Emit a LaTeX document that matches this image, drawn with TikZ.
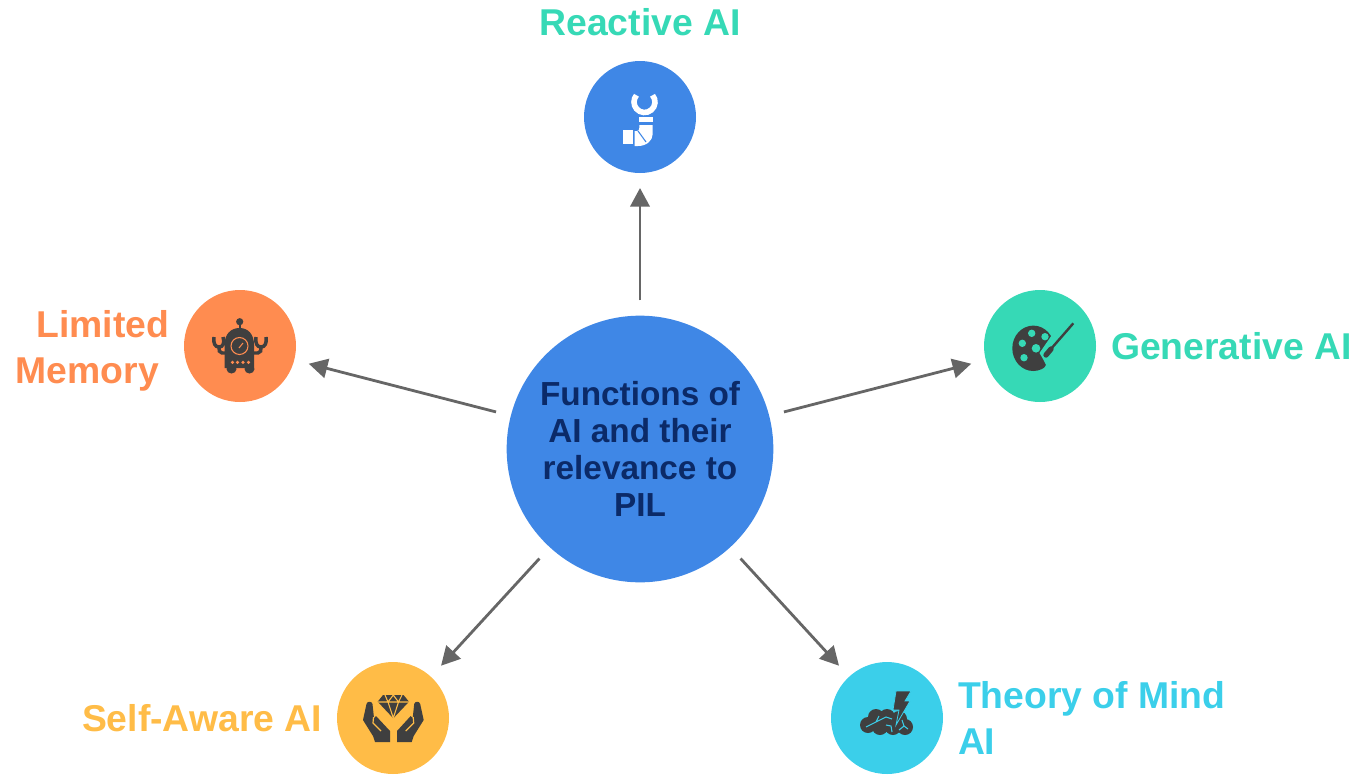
\documentclass[tikz,border=0pt]{standalone}
\usepackage{fontspec}
\setmainfont{Liberation Sans}
\usetikzlibrary{arrows.meta}
\definecolor{hubblue}{HTML}{3F87E6}
\definecolor{hubtext}{HTML}{0B2A68}
\definecolor{mint}{HTML}{36D9B6}
\definecolor{peach}{HTML}{FF8C50}
\definecolor{amber}{HTML}{FFBC47}
\definecolor{sky}{HTML}{3BCFEA}
\definecolor{icondark}{HTML}{3F3F3F}
\definecolor{linkgray}{HTML}{666666}
\tikzset{
  spot/.style={circle,minimum size=84pt,inner sep=0pt,outer sep=11.25pt},
  hub/.style={circle,fill=hubblue,minimum size=200pt,inner sep=0pt,outer sep=11.5pt,
    align=center,text=hubtext,font=\fontsize{25}{27.7}\selectfont\bfseries},
  tag/.style={inner sep=0pt,outer sep=0pt,font=\fontsize{28}{34.5}\selectfont\bfseries},
  link/.style={draw=linkgray,line width=2.1pt,-{Triangle[length=14pt,width=14.5pt]}},
}
\begin{document}
\begin{tikzpicture}[x=0.75pt,y=-0.75pt]
  \useasboundingbox (0,0) rectangle (1360,775);

  \node[hub] (Center) at (640,449) {Functions of\\AI and their\\relevance to\\PIL};
  \node[spot,fill=hubblue] (Reactive) at (640,117) {};
  \node[spot,fill=mint] (Generative) at (1040,346) {};
  \node[spot,fill=peach] (Limited) at (240,346) {};
  \node[spot,fill=amber] (Self) at (393,718) {};
  \node[spot,fill=sky] (Theory) at (887,718) {};

  \node[tag,text=mint] (ReactiveTag) at (640,22) {Reactive AI};
  \node[tag,text=mint,anchor=west] (GenerativeTag) at (Generative.east) {Generative AI};
  \node[tag,text=peach,anchor=east,align=right,yshift=-3.5pt] (LimitedTag) at (Limited.west) {Limited\\Memory\kern7.5pt\null};
  \node[tag,text=amber,anchor=east] (SelfTag) at (Self.west) {Self-Aware AI};
  \node[tag,text=sky,anchor=west,align=left] (TheoryTag) at (Theory.east) {Theory of Mind\\AI};

  \draw[link] (Center) -- (Reactive);
  \draw[link] (Center) -- (Generative);
  \draw[link] (Center) -- (Limited);
  \draw[link] (Center) -- (Self);
  \draw[link] (Center) -- (Theory);

  % arm icon
  \draw[white,line width=4.2pt] (644.5,102) ++(-40:10.5) arc (-40:220:10.5);
  \fill[white] (639.3,116.7) rectangle (652.7,122);
  \fill[white] (639.3,125) -- (652.7,125) -- (652.7,134) .. controls (652.7,141) and (646,146) .. (638,146)
    -- (634.5,146) -- (634.5,131) -- (637,131) .. controls (638.5,131) and (639.3,130) .. (639.3,128) -- cycle;
  \draw[hubblue,line width=0.8pt] (638,131) -- (646,142);
  \fill[white] (623.3,130) rectangle (632.7,144);

  % robot icon
  \fill[icondark] (224.5,368) -- (224.5,345) .. controls (224.5,334) and (231,328) .. (239.5,328)
    .. controls (248,328) and (254,334) .. (254,345) -- (254,368) -- cycle;
  \draw[icondark,line width=1.5pt] (239.7,322) -- (239.7,330);
  \fill[icondark] (239.7,321.7) circle (3.6);
  \fill[icondark] (231.5,369) ellipse (5 and 4.5) (249.5,369) ellipse (5 and 4.5);
  \draw[peach,line width=0.8pt] (239.5,346) circle (8.5);
  \draw[peach,line width=0.8pt] (239,348) -- (243,343);
  \foreach \dotx in {232.5,237.5,243,248.5}
    \fill[peach] (\dotx,362.3) circle (1.8);
  \draw[icondark,line width=2.6pt] (226,353) -- (222,353) .. controls (219,353) and (219,350) .. (219,347)
    (214,337) .. controls (213,343) and (215,347) .. (219,347) .. controls (223,347) and (225,343) .. (223,337);
  \draw[icondark,line width=2.6pt] (253,353) -- (258,353) .. controls (261,353) and (261,350) .. (261,347)
    (256,337) .. controls (255,343) and (257,347) .. (261,347) .. controls (265,347) and (267,343) .. (266,337);

  % palette icon
  \fill[icondark] (1033.3,348.3) ellipse (21 and 22.7);
  \fill[mint] (1054,332) -- (1062,332) -- (1062,372) -- (1042,372) -- (1046,365) -- (1043,359) -- (1039.5,353) -- cycle;
  \fill[mint] (1031.7,333.3) circle (3.7) (1045,336.7) circle (3.7) (1022.3,343.3) circle (3.7)
    (1036,348.3) circle (4.3) (1024,357.7) circle (3.7);
  \draw[icondark,line width=1.8pt] (1073.3,323.3) -- (1050,350);
  \draw[icondark,line width=4pt,line cap=round] (1051,349) -- (1046,355);

  % diamond and hands icon
  \fill[icondark] (383,695) -- (403.5,695) -- (409,701.7) -- (393.3,718.3) -- (377.7,701.7) -- cycle;
  \draw[amber,line width=0.8pt] (377.7,702) -- (409,702) (385,695) -- (388,702) -- (393.3,718) -- (398.5,702) -- (402,695)
    (388,702) -- (393.3,695) -- (398.5,702);
  \fill[icondark] (363,720) -- (366.5,704) .. controls (367,701) and (372,701) .. (372.5,704) -- (374,718)
    -- (376,716) -- (390,731) -- (390,742) -- (375,742) -- (373,736) -- cycle;
  \fill[icondark] (423.7,720) -- (420.2,704) .. controls (419.7,701) and (414.7,701) .. (414.2,704) -- (412.7,718)
    -- (410.7,716) -- (397,731) -- (397,742) -- (411.7,742) -- (413.7,736) -- cycle;
  \draw[amber,line width=0.9pt] (373.5,717) -- (373,723) -- (381,731) (413.2,717) -- (413.7,723) -- (405.7,731);

  % brain and bolt icon
  \fill[icondark] (868,725) circle (8) (876,717) circle (8) (887,717) circle (8) (899,719) circle (8)
    (905,727) circle (8) (893,727) circle (8) (880,727) circle (8);
  \filldraw[fill=icondark,draw=sky,line width=0.6pt] (896,691) -- (911,691) -- (905,701) -- (910,701) -- (896,725) -- (899,710) -- (893,710) -- cycle;
  \draw[sky,line width=0.8pt] (866,727) -- (876,722) -- (879,716) (876,722) -- (886,717) -- (892,719)
    (886,725) -- (891,726) -- (892,732) (899,730) -- (904,726) -- (908,729) (904,726) -- (902,720);
\end{tikzpicture}
\end{document}
